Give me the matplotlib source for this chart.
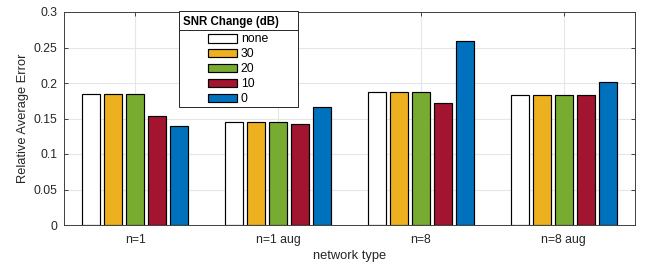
import numpy as np
import matplotlib
matplotlib.use("Agg")
import matplotlib.pyplot as plt
from matplotlib.lines import Line2D
from matplotlib.patches import Rectangle

plt.rcParams["font.family"] = ["Liberation Sans", "DejaVu Sans"]

categories = ["n=1", "n=1 aug", "n=8", "n=8 aug"]
snr_labels = ["none", "30", "20", "10", "0"]
err_none = [0.184, 0.145, 0.187, 0.183]
err_30 = [0.184, 0.145, 0.187, 0.183]
err_20 = [0.184, 0.145, 0.187, 0.183]
err_10 = [0.153, 0.142, 0.172, 0.183]
err_0 = [0.139, 0.166, 0.259, 0.201]
series = [err_none, err_30, err_20, err_10, err_0]
colors = ["#ffffff", "#EDB120", "#77AC30", "#A2142F", "#0072BD"]

W, H = 648, 266
fig = plt.figure(figsize=(W / 100, H / 100), dpi=100)
ax = fig.add_axes([64 / W, 1 - 225 / H, 571 / W, 213 / H])

x = np.arange(1, len(categories) + 1)
step = 0.154
bw = 0.126
handles = []
for i, (vals, col, lab) in enumerate(zip(series, colors, snr_labels)):
    h = ax.bar(x + (i - 2) * step, vals, width=bw, color=col, edgecolor="black",
               linewidth=0.85, label=lab, zorder=3)
    handles.append(h)

ax.set_xlim(0.5, 4.5)
ax.set_ylim(0, 0.3)
ax.set_xticks(x)
ax.set_xticklabels(categories)
ax.set_yticks(np.arange(0, 0.31, 0.05))
ax.set_yticklabels(["0", "0.05", "0.1", "0.15", "0.2", "0.25", "0.3"])
ax.grid(True, color="#e6e6e6", linewidth=0.8, zorder=0)
ax.tick_params(labelsize=8.8, colors="#262626", direction="in", length=3,
               top=True, right=True, width=0.6)
ax.tick_params(axis="x", pad=6.5)
ax.tick_params(axis="y", pad=4.5)
for s in ax.spines.values():
    s.set_color("#404040")
    s.set_linewidth(0.7)
ax.set_xlabel("network type", fontsize=9.3, color="#262626", labelpad=3)
ax.set_ylabel("Relative Average Error", fontsize=9.3, color="#262626", labelpad=3.5)

# legend box with title and separator, MATLAB style
fig.add_artist(Rectangle((179 / W, 1 - 107 / H), 119 / W, 96 / H,
                         transform=fig.transFigure, facecolor="white",
                         edgecolor="#262626", linewidth=0.7, zorder=1))
fig.add_artist(Line2D([179 / W, 298 / W], [1 - 29.5 / H, 1 - 29.5 / H],
                      transform=fig.transFigure, color="#262626",
                      linewidth=0.7, zorder=2))
fig.text(183 / W, 1 - 21.5 / H, "SNR Change (dB)", fontsize=8.3,
         fontweight="bold", va="center", ha="left", color="black", zorder=3)
leg = fig.legend(handles=handles, labels=snr_labels, loc="upper center",
                 bbox_to_anchor=(238 / W, 1 - 33.5 / H), fontsize=8.8,
                 handlelength=2.4, handleheight=0.7, handletextpad=0.3,
                 labelspacing=0.24, borderpad=0, borderaxespad=0,
                 frameon=False)
leg.set_zorder(5)

fig.savefig("out.png", dpi=100)
